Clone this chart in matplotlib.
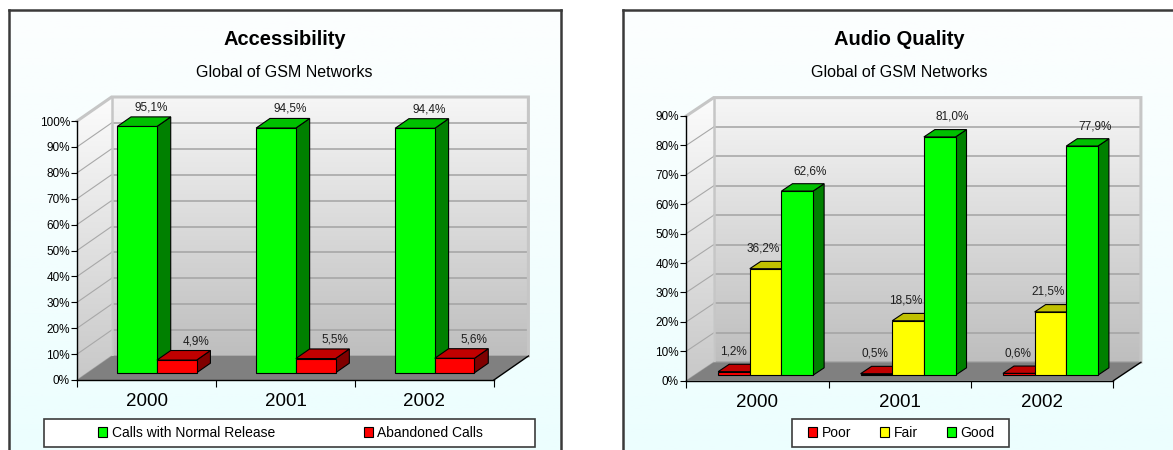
import numpy as np
import matplotlib
matplotlib.use("Agg")
import matplotlib.pyplot as plt
from matplotlib.colors import LinearSegmentedColormap
from matplotlib.patches import Polygon, Rectangle, Patch

plt.rcParams["font.family"] = ["Liberation Sans", "DejaVu Sans"]

years = ["2000", "2001", "2002"]

acc_names = ["Calls with Normal Release", "Abandoned Calls"]
acc_normal = [95.1, 94.5, 94.4]
acc_abandoned = [4.9, 5.5, 5.6]

aq_names = ["Poor", "Fair", "Good"]
aq_poor = [1.2, 0.5, 0.6]
aq_fair = [36.2, 18.5, 21.5]
aq_good = [62.6, 81.0, 77.9]

# (front, top, side) shades for each bar colour
GREEN = ("#00ff00", "#00c000", "#008000")
RED = ("#ff0000", "#c00000", "#800000")
YELLOW = ("#ffff00", "#c0c000", "#808000")

W, H = 1173, 450
fig = plt.figure(figsize=(W / 100, H / 100), dpi=100)
fig.patch.set_facecolor("white")

panel_cmap = LinearSegmentedColormap.from_list("panel", ["#fcfeff", "#ebfefe"])
wall_cmap = LinearSegmentedColormap.from_list("wall", ["#f6f6f6", "#bebebe"])
side_cmap = LinearSegmentedColormap.from_list("side", ["#fcfcfc", "#c8c8c8"])
grad = np.linspace(0, 1, 256)[:, None]


def box(x0, y0, x1, y1):
    # pixel box measured from the top-left -> figure fraction rect
    return [x0 / W, 1 - y1 / H, (x1 - x0) / W, (y1 - y0) / H]


def draw_chart(panel_x, plot_px, ymax, depth_px, values, colors, names,
               title, legend_px, legend_inner, label_shift, label_lift):
    # panel with soft cyan gradient
    pax = fig.add_axes(box(panel_x[0], 10, panel_x[1], 480), zorder=0)
    pax.imshow(grad, cmap=panel_cmap, aspect="auto", extent=[0, 1, 0, 1])
    pax.set_xlim(0, 1)
    pax.set_ylim(0, 1)
    pax.set_xticks([])
    pax.set_yticks([])
    for s in ("left", "top", "right"):
        pax.spines[s].set_color("#3a3a3a")
        pax.spines[s].set_linewidth(1.8)
    pax.spines["bottom"].set_visible(False)

    cx = (panel_x[0] + panel_x[1]) / 2 / W
    fig.text(cx, 1 - 45 / H, title, ha="center", va="baseline",
             fontsize=14.5, fontweight="bold", zorder=5)
    fig.text(cx, 1 - 77.3 / H, "Global of GSM Networks", ha="center",
             va="baseline", fontsize=11.5, zorder=5)

    x0, y0, x1, ytop = plot_px
    ax = fig.add_axes(box(x0, ytop, x1, y0), zorder=1)
    ax.set_facecolor("none")
    n_cat = len(years)
    DX = depth_px[0] / (x1 - x0) * n_cat
    DY = depth_px[1] / (y0 - ytop) * ymax

    # back wall and side wall
    ax.imshow(grad, cmap=wall_cmap, aspect="auto", interpolation="bilinear",
              extent=[DX, n_cat + DX, DY, ymax + DY], clip_on=False, zorder=0.5)
    side = Polygon([(0, 0), (DX, DY), (DX, ymax + DY), (0, ymax)],
                   closed=True, transform=ax.transData, fc="none", ec="none")
    im = ax.imshow(grad, cmap=side_cmap, aspect="auto", interpolation="bilinear",
                   extent=[0, DX, 0, ymax + DY], zorder=0.5)
    im.set_clip_path(side)
    im.set_clip_box(fig.bbox)

    ticks = list(range(0, ymax + 1, 10))
    for t in ticks:
        ax.plot([DX, n_cat + DX], [t + DY, t + DY], color="#a3a3a3", lw=1.1,
                clip_on=False, zorder=1)
        ax.plot([0, DX], [t, t + DY], color="#a8a8a8", lw=0.8,
                clip_on=False, zorder=1)
    ax.plot([0, DX, n_cat + DX, n_cat + DX], [ymax, ymax + DY, ymax + DY, DY],
            color="#c6c6c6", lw=2.2, clip_on=False, zorder=1.2,
            solid_joinstyle="miter")
    ax.plot([DX, DX], [DY, ymax + DY], color="#c6c6c6", lw=1.8,
            clip_on=False, zorder=1.2)

    # floor
    ax.add_patch(Polygon([(0, 0), (n_cat, 0), (n_cat + DX, DY), (DX, DY)],
                         closed=True, fc="#808080", ec="none", zorder=1.5,
                         clip_on=False))
    ax.plot([n_cat, n_cat + DX], [0, DY], color="black", lw=1,
            clip_on=False, zorder=1.6)

    # 3-D columns
    n_ser = len(values)
    gap = 1.5
    bw = 1 / (n_ser + gap)
    fz, bz = 0.3, 0.7
    ddx, ddy = (bz - fz) * DX, (bz - fz) * DY
    z = 3.0
    for i in range(n_cat):
        for j in range(n_ser):
            v = values[j][i]
            xl = i + (gap / 2 + j) * bw + fz * DX
            xr = xl + bw
            yb = fz * DY
            yt = v + fz * DY
            c_front, c_top, c_side = colors[j]
            faces = [
                ([(xr, yb), (xr + ddx, yb + ddy), (xr + ddx, yt + ddy), (xr, yt)], c_side),
                ([(xl, yt), (xr, yt), (xr + ddx, yt + ddy), (xl + ddx, yt + ddy)], c_top),
                ([(xl, yb), (xr, yb), (xr, yt), (xl, yt)], c_front),
            ]
            for pts, c in faces:
                ax.add_patch(Polygon(pts, closed=True, fc=c, ec="black",
                                     lw=0.8, joinstyle="miter", zorder=z,
                                     clip_on=False))
                z += 0.001
            ax.annotate(f"{v:.1f}%".replace(".", ","),
                        xy=((xl + xr) / 2, yt + ddy),
                        xytext=(label_shift[j] * 0.72, label_lift * 0.72),
                        textcoords="offset points", ha="center", va="center",
                        fontsize=8.5, color="#1e1e1e", zorder=10,
                        annotation_clip=False)

    ax.set_xlim(0, n_cat)
    ax.set_ylim(0, ymax)
    ax.set_yticks(ticks)
    ax.set_yticklabels([f"{t}%" for t in ticks])
    ax.set_xticks(range(n_cat + 1))
    ax.set_xticklabels([])
    ax.set_xticks([i + 0.5 for i in range(n_cat)], minor=True)
    ax.set_xticklabels(years, minor=True)
    ax.tick_params(axis="y", direction="out", length=4, width=0.8, pad=1.2,
                   labelsize=8.5)
    ax.tick_params(axis="x", which="major", direction="out", length=5, width=0.8)
    ax.tick_params(axis="x", which="minor", length=0, pad=9.4, labelsize=13.5)
    for s in ("top", "right"):
        ax.spines[s].set_visible(False)
    for s in ("left", "bottom"):
        ax.spines[s].set_linewidth(1.0)
        ax.spines[s].set_zorder(2.5)

    # legend
    lx0, ly0, lx1, ly1 = legend_px
    fig.add_artist(Rectangle((lx0 / W, 1 - ly1 / H), (lx1 - lx0) / W,
                             (ly1 - ly0) / H, transform=fig.transFigure,
                             fc="white", ec="#3c3c3c", lw=1.2, zorder=2))
    handles = [Patch(fc=c[0], ec="black", lw=0.8) for c in colors]
    ix0, ix1 = legend_inner
    leg = fig.legend(handles, names, loc="center",
                     bbox_to_anchor=(ix0 / W, 1 - ly1 / H, (ix1 - ix0) / W,
                                     (ly1 - ly0) / H),
                     bbox_transform=fig.transFigure, mode="expand",
                     ncol=len(names), frameon=False, borderpad=0,
                     borderaxespad=0, handlelength=0.65, handleheight=0.65,
                     handletextpad=0.33, fontsize=10)
    leg.set_zorder(3)


draw_chart((8.6, 560.7), (77.1, 380.0, 493.9, 121.0), 100, (34.5, 24.0),
           [acc_normal, acc_abandoned], [GREEN, RED], acc_names,
           "Accessibility", (44.3, 419.3, 534.6, 446.7), (98.2, 483.0),
           [14, 19], 9.5)

draw_chart((622.7, 1175.0), (686.2, 380.7, 1113.4, 116.0), 90, (27.5, 18.4),
           [aq_poor, aq_fair, aq_good], [RED, YELLOW, GREEN], aq_names,
           "Audio Quality", (791.5, 419.3, 1009.3, 446.7), (808.3, 994.7),
           [-1, -2, 12.5], 12.6)

fig.savefig("out.png", dpi=100)
